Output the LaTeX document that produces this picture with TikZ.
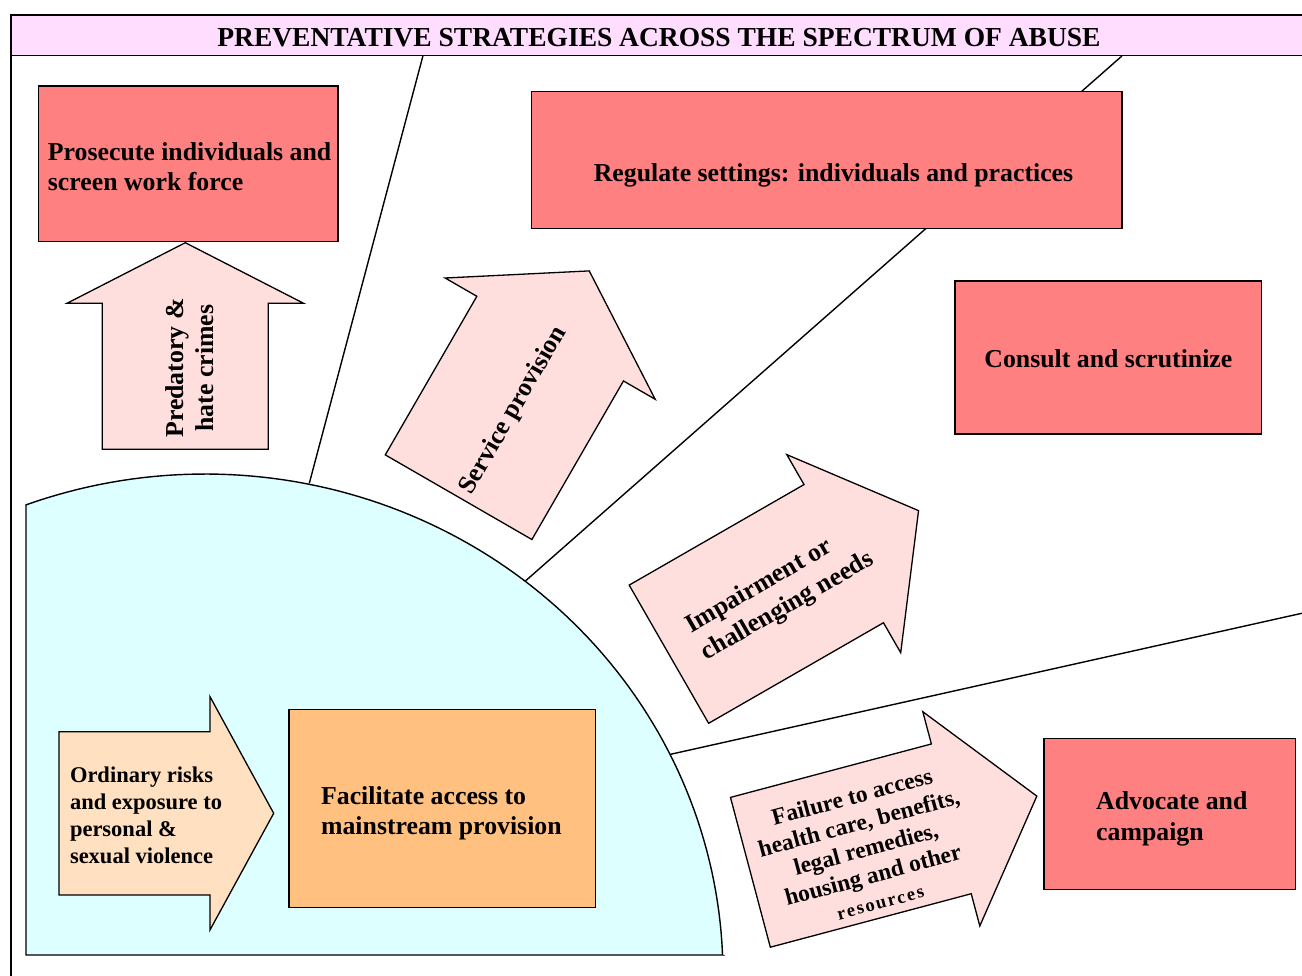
\documentclass[tikz,border=0pt]{standalone}
\usepackage{fontspec}
\setmainfont{Liberation Serif}
\definecolor{coralbox}{HTML}{FF8080}
\definecolor{rosearrow}{HTML}{FFDEDE}
\definecolor{titlebg}{HTML}{FFDDFF}
\definecolor{cyanbg}{HTML}{DDFFFF}
\definecolor{orangebox}{HTML}{FFC080}
\definecolor{peacharrow}{HTML}{FFE0C0}
\tikzset{
  edge/.style={draw=black, line width=1.4pt},
  redbox/.style={draw=black, line width=1.4pt, fill=coralbox, inner sep=0pt},
  orangerect/.style={draw=black, line width=1.4pt, fill=orangebox, inner sep=0pt},
  titlebar/.style={draw=black, line width=1.4pt, fill=titlebg, inner sep=0pt},
  arrowline/.style={draw=black, line width=1.3pt, line join=miter},
  titletext/.style={font=\fontsize{27.5}{30}\selectfont\bfseries, inner sep=0pt},
  boxtext/.style={font=\fontsize{25.8}{30}\selectfont\bfseries, inner sep=0pt, align=left},
}
% #1 fill, #2 tail centre, #3 angle, #4 length, #5 shaft width, #6 head width, #7 head length
\newcommand{\blkarrow}[7]{%
  \begin{scope}[shift={#2}, rotate=#3]
    \draw[arrowline, fill=#1] (0,{-#5/2}) -- ({#4-#7},{-#5/2}) -- ({#4-#7},{-#6/2})
      -- (#4,0) -- ({#4-#7},{#6/2}) -- ({#4-#7},{#5/2}) -- (0,{#5/2}) -- cycle;
  \end{scope}}
\begin{document}
\begin{tikzpicture}[x=1pt, y=-1pt]
\useasboundingbox (0,0) rectangle (1302,976);
\fill[white] (0,0) rectangle (1302,976);

% frame and title bar
\coordinate (frametop) at (11,55);
\coordinate (framebot) at (11,980);
\draw[edge] (frametop) -- (framebot);
\node[titlebar, minimum width=1296pt, minimum height=40.5pt] (bar) at (659,35.3) {};
\node[titletext, anchor=base] (ttl) at (659,46.5) {PREVENTATIVE STRATEGIES ACROSS THE SPECTRUM OF ABUSE};

% dividing lines
\coordinate (l1top) at (422.9,56);
\coordinate (l1end) at (309.3,483.3);
\coordinate (l2top) at (1121.9,56);
\coordinate (l2end) at (524.6,581.7);
\coordinate (l3top) at (1304,612.8);
\coordinate (l3end) at (667.4,755);
\draw[edge] (l1top) -- (l1end);
\draw[edge] (l2top) -- (l2end);
\draw[edge] (l3top) -- (l3end);

% inner region
\draw[edge, fill=cyanbg] (722.6,955) -- (26,955) -- (26,504.8)
  -- plot[domain=110.2:2.29, samples=90] ({205+518*cos(\x)},{975-501*sin(\x)}) -- cycle;

% boxes
\node[redbox, minimum width=299.3pt, minimum height=155.7pt] (pros) at (188.25,163.85) {};
\node[boxtext, anchor=west] (prost) at (47.7,166.2) {Prosecute individuals and\\screen work force};

\node[redbox, minimum width=590.5pt, minimum height=136.6pt] (reg) at (826.75,160) {};
\node[boxtext, anchor=base] (regt) at (833.5,181.7) {Regulate settings: individuals and practices};

\node[redbox, minimum width=306.7pt, minimum height=153pt] (cons) at (1108.35,357.5) {};
\node[boxtext, anchor=base] (const) at (1108.4,367.3) {Consult and scrutinize};

\node[orangerect, minimum width=306.8pt, minimum height=198.4pt] (fac) at (442.2,808.5) {};
\node[boxtext, anchor=west] (fact) at (320.9,813.3) {Facilitate access to\\mainstream provision};

\node[redbox, minimum width=251.6pt, minimum height=151pt] (adv) at (1169.8,813.8) {};
\node[boxtext, anchor=west, font=\fontsize{25.8}{31.5}\selectfont\bfseries] (advt) at (1096,818.8) {Advocate and\\campaign};

% arrows
\blkarrow{rosearrow}{(185.3,449.3)}{90}{206.6}{166}{236.6}{60.6}
\node[boxtext, align=center, rotate=90] (predt) at (189.2,368) {Predatory \&\\hate crimes};

\blkarrow{peacharrow}{(59,813.3)}{0}{214.7}{163.3}{233.3}{63.7}
\node[boxtext, anchor=west, font=\fontsize{22.5}{27}\selectfont\bfseries] (ordt) at (69.8,814.9) {Ordinary risks\\and exposure to\\personal \&\\sexual violence};

\blkarrow{rosearrow}{(458.6,497.2)}{60}{261.3}{169.3}{242.5}{78.2}
\node[boxtext, rotate=60] (servt) at (513.5,410.8) {Service provision};

\blkarrow{rosearrow}{(668.9,654.2)}{29.9}{288}{159.4}{228.5}{86.3}
\node[boxtext, rotate=30, font=\fontsize{25.8}{31.5}\selectfont\bfseries] (impt) at (780,593) {Impairment or\\challenging needs};

\blkarrow{rosearrow}{(750.4,872.3)}{14.9}{296.4}{155}{221.7}{88.5}
\node[boxtext, align=center, rotate=15, font=\fontsize{23.5}{27}\selectfont\bfseries] (failt) at (865.9,848.6)
  {Failure to access\\health care, benefits,\\legal remedies,\\housing and other\\{\fontsize{18.5}{27}\selectfont\addfontfeature{LetterSpace=10}resources}};
\end{tikzpicture}
\end{document}
